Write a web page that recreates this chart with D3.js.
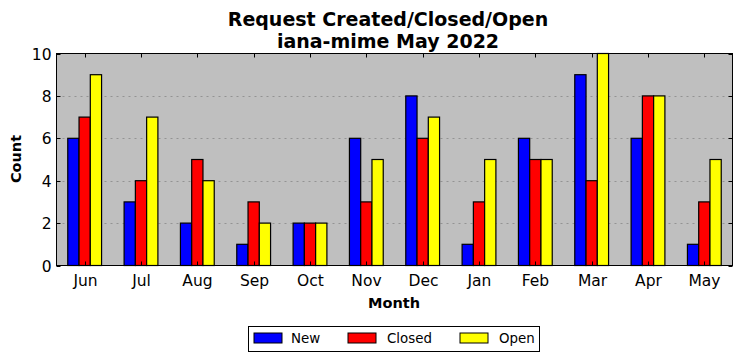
<!DOCTYPE html>
<html><head><meta charset="utf-8">
<script src="https://cdn.jsdelivr.net/npm/d3@7"></script>
<style>body{margin:0;background:#fff;} text{font-family:"DejaVu Sans",sans-serif;}</style>
</head><body>
<svg id="c" width="741" height="361"></svg>
<script>
const months = ["Jun","Jul","Aug","Sep","Oct","Nov","Dec","Jan","Feb","Mar","Apr","May"];
const seriesNames = ["New","Closed","Open"];
const newVals = [6,3,2,1,2,6,8,1,6,9,6,1];
const closedVals = [7,4,5,3,2,3,6,3,5,4,8,3];
const openVals = [9,7,4,2,2,5,7,5,5,10,8,5];
const colors = ["#0000ff","#ff0000","#ffff00"];
const yTicks = [0,2,4,6,8,10];

const svg = d3.select("#c");
const L=56.5, R=732.5, T=53.5, B=265.5;
const x = d3.scaleBand().domain(months).range([L,R]).padding(0);
const y = d3.scaleLinear().domain([0,10]).range([B,T]);
const vals = [newVals, closedVals, openVals];

svg.append("rect").attr("x",L).attr("y",T).attr("width",R-L).attr("height",B-T).attr("fill","#bfbfbf");

// grid
svg.append("g").selectAll("line").data(yTicks.slice(1,-1)).join("line")
  .attr("x1",L).attr("x2",R).attr("y1",d=>Math.round(y(d))+0.5).attr("y2",d=>Math.round(y(d))+0.5)
  .attr("stroke","#888").attr("stroke-width",0.8).attr("stroke-dasharray","2,4");

// bars
const bw = x.bandwidth()*0.2;
months.forEach((m,i)=>{
  vals.forEach((v,j)=>{
    const cx = x(m)+x.bandwidth()/2;
    svg.append("rect")
      .attr("x", cx - 1.5*bw + j*bw)
      .attr("y", y(v[i]))
      .attr("width", bw)
      .attr("height", y(0)-y(v[i]))
      .attr("fill", colors[j]).attr("stroke","#000").attr("stroke-width",1.2);
  });
});

// axes ticks inward
const gy = svg.append("g");
yTicks.forEach(t=>{
  const yy = Math.round(y(t))+0.5;
  gy.append("line").attr("x1",L).attr("x2",L+4).attr("y1",yy).attr("y2",yy).attr("stroke","#000");
  gy.append("line").attr("x1",R-4).attr("x2",R).attr("y1",yy).attr("y2",yy).attr("stroke","#000");
  gy.append("text").attr("x",L-5).attr("y",yy).attr("dy","0.36em").attr("text-anchor","end")
    .attr("font-size",15.5).text(t);
});
months.forEach(m=>{
  const xx = Math.round(x(m)+x.bandwidth()/2)+0.5;
  svg.append("line").attr("x1",xx).attr("x2",xx).attr("y1",B).attr("y2",B-4).attr("stroke","#000");
  svg.append("line").attr("x1",xx).attr("x2",xx).attr("y1",T).attr("y2",T+4).attr("stroke","#000");
  svg.append("text").attr("x",xx).attr("y",B+20).attr("text-anchor","middle").attr("font-size",15.5).text(m);
});

svg.append("rect").attr("x",L).attr("y",T).attr("width",R-L).attr("height",B-T).attr("fill","none").attr("stroke","#000").attr("stroke-width",1);

// titles
svg.append("text").attr("x",388).attr("y",25.5).attr("text-anchor","middle").attr("font-size",19).attr("font-weight","bold").text("Request Created/Closed/Open");
svg.append("text").attr("x",388).attr("y",48).attr("text-anchor","middle").attr("font-size",19).attr("font-weight","bold").text("iana-mime May 2022");
svg.append("text").attr("x",394).attr("y",308).attr("text-anchor","middle").attr("font-size",14.5).attr("font-weight","bold").text("Month");
svg.append("text").attr("transform",`translate(21,159) rotate(-90)`).attr("text-anchor","middle").attr("font-size",14.5).attr("font-weight","bold").text("Count");

// legend
const lg = svg.append("g");
lg.append("rect").attr("x",248.5).attr("y",326.5).attr("width",291).attr("height",25).attr("fill","#fff").attr("stroke","#000");
const sx = [254,348,460], tx=[291,387,499];
seriesNames.forEach((n,j)=>{
  lg.append("rect").attr("x",sx[j]).attr("y",333).attr("width",28).attr("height",10).attr("fill",colors[j]).attr("stroke","#000").attr("stroke-width",1);
  lg.append("text").attr("x",tx[j]).attr("y",338.5).attr("dy","0.36em").attr("font-size",13.4).text(n);
});
</script>
</body></html>
